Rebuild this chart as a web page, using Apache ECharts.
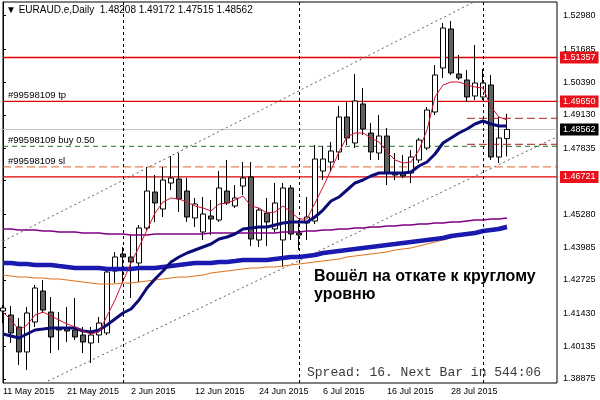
<!DOCTYPE html>
<html>
<head>
<meta charset="utf-8">
<script src="https://cdn.jsdelivr.net/npm/echarts@6/dist/echarts.min.js"></script>
<style>html,body{margin:0;padding:0;background:#fff}#c{width:600px;height:400px}</style>
</head>
<body>
<div id="c"></div>
<script>
// ---- data (bar index 0 = 11 May 2015, daily bars) ----
const dateLabels = ['11 May 2015','21 May 2015','2 Jun 2015','12 Jun 2015','24 Jun 2015','6 Jul 2015','16 Jul 2015','28 Jul 2015'];
const dateLabelIdx = [0,8,16,24,32,40,48,56];
const priceTicks = [1.52980,1.51685,1.50390,1.49130,1.47835,1.46575,1.45280,1.43985,1.42725,1.41430,1.40135,1.38875];

const open = [1.41515,1.41360,1.40894,1.39924,1.41088,1.42292,1.41476,1.40855,1.40855,1.40778,1.40584,1.40273,1.40584,1.40661,1.43068,1.43728,
1.43612,1.43379,1.44738,1.46135,1.45475,1.46485,1.46640,1.46174,1.45126,1.44582,1.45204,1.45048,1.46174,1.45592,1.46368,1.46718,
1.44272,1.45320,1.44699,1.44272,1.46291,1.44544,1.44932,1.45009,1.46951,1.47300,1.47688,1.49047,1.48038,1.49552,1.48426,1.47649,
1.48309,1.46873,1.46873,1.46873,1.47378,1.47844,1.49241,1.50950,1.52464,1.50717,1.50484,1.49862,1.49824,1.50290,1.47494,1.48208];
const close = [1.41632,1.40661,1.39924,1.41438,1.42408,1.41554,1.40506,1.40778,1.40739,1.40506,1.40312,1.40584,1.41049,1.43029,1.43612,1.43612,
1.43418,1.44738,1.46174,1.45708,1.46601,1.46679,1.45864,1.45165,1.45669,1.45281,1.45087,1.46291,1.45708,1.45902,1.46679,1.44311,
1.45436,1.44971,1.45708,1.46291,1.44505,1.44466,1.45165,1.47417,1.47417,1.47727,1.49047,1.48232,1.49668,1.48581,1.47688,1.48309,
1.46873,1.46795,1.46756,1.47494,1.48154,1.49319,1.50678,1.52502,1.50755,1.50561,1.49824,1.50367,1.50367,1.47494,1.48232,1.48562];
const low = [1.41049,1.40273,1.39419,1.39225,1.40894,1.41438,1.39885,1.40001,1.40312,1.40389,1.39885,1.39496,1.40273,1.40584,1.42602,1.42602,
1.42020,1.42641,1.44660,1.44971,1.45165,1.46213,1.45359,1.44971,1.44776,1.44272,1.44466,1.44971,1.45631,1.45514,1.46019,1.44039,
1.44000,1.44039,1.44582,1.43224,1.44272,1.43884,1.44272,1.44893,1.46601,1.46912,1.47378,1.47960,1.47844,1.48348,1.47378,1.47378,
1.46407,1.46601,1.46679,1.46485,1.47261,1.47766,1.49125,1.50561,1.50678,1.50484,1.49630,1.49707,1.49707,1.47378,1.47261,1.47515];
const high = [1.41748,1.41709,1.41243,1.41671,1.42525,1.42719,1.42059,1.41476,1.41671,1.42020,1.40894,1.40894,1.41282,1.43107,1.43806,1.44000,
1.44466,1.44854,1.47106,1.46795,1.47106,1.47533,1.47649,1.46679,1.45902,1.45941,1.45825,1.46951,1.47378,1.46407,1.47300,1.47300,
1.45514,1.45902,1.46485,1.46485,1.46407,1.45048,1.45941,1.47960,1.47921,1.48077,1.49474,1.49630,1.50717,1.50173,1.48814,1.49125,
1.48620,1.47649,1.47572,1.47766,1.48232,1.49435,1.51066,1.52697,1.52774,1.51454,1.50872,1.51842,1.50911,1.50678,1.49047,1.49172];

const maFast = [1.41476,1.41166,1.40778,1.40972,1.41360,1.41476,1.41321,1.41166,1.41011,1.40894,1.40739,1.40622,1.40700,1.41321,1.41942,1.42680,
1.43379,1.44000,1.44660,1.45320,1.45747,1.45902,1.45864,1.45747,1.45592,1.45514,1.45398,1.45669,1.45708,1.45825,1.45980,1.45592,
1.45514,1.45320,1.45359,1.45592,1.45359,1.45087,1.45087,1.45708,1.46329,1.46989,1.47688,1.48271,1.48426,1.48426,1.48232,1.48077,
1.47688,1.47378,1.47261,1.47300,1.47766,1.48542,1.49824,1.50290,1.50406,1.50406,1.50290,1.50212,1.50173,1.49435,1.49047,1.48931];
const maMid = [1.40622,1.40545,1.40467,1.40622,1.40778,1.40816,1.40855,1.40855,1.40855,1.40855,1.40739,1.40700,1.40778,1.40972,1.41205,1.41438,
1.41593,1.41942,1.42408,1.42758,1.43068,1.43418,1.43612,1.43767,1.43884,1.44000,1.44116,1.44311,1.44388,1.44505,1.44699,1.44738,
1.44776,1.44776,1.44854,1.44932,1.44971,1.44971,1.44971,1.45165,1.45436,1.45786,1.45941,1.46213,1.46485,1.46601,1.46756,1.46873,
1.46873,1.46873,1.46873,1.46912,1.47145,1.47300,1.47611,1.48038,1.48232,1.48426,1.48581,1.48775,1.48892,1.48775,1.48698,1.48698];
const maSlowBlue = [1.43379,1.43379,1.43340,1.43340,1.43301,1.43301,1.43301,1.43262,1.43224,1.43185,1.43185,1.43185,1.43185,1.43146,1.43146,1.43146,
1.43146,1.43185,1.43185,1.43185,1.43224,1.43262,1.43301,1.43340,1.43379,1.43379,1.43379,1.43418,1.43418,1.43456,1.43495,1.43495,
1.43495,1.43495,1.43534,1.43573,1.43612,1.43612,1.43651,1.43689,1.43767,1.43806,1.43845,1.43884,1.43922,1.43961,1.44000,1.44039,
1.44078,1.44116,1.44155,1.44194,1.44233,1.44272,1.44311,1.44349,1.44427,1.44466,1.44505,1.44544,1.44621,1.44660,1.44699,1.44776];
const maSlowPurple = [1.44699,1.44699,1.44660,1.44660,1.44660,1.44621,1.44621,1.44582,1.44582,1.44582,1.44544,1.44544,1.44544,1.44505,1.44505,1.44505,
1.44466,1.44466,1.44466,1.44505,1.44505,1.44505,1.44505,1.44505,1.44505,1.44505,1.44544,1.44544,1.44544,1.44544,1.44544,1.44544,
1.44544,1.44544,1.44544,1.44582,1.44582,1.44582,1.44621,1.44621,1.44660,1.44660,1.44699,1.44699,1.44738,1.44738,1.44776,1.44776,
1.44815,1.44815,1.44854,1.44854,1.44893,1.44893,1.44932,1.44932,1.44971,1.44971,1.45009,1.45048,1.45048,1.45087,1.45087,1.45126];
const maSlowOrange = [1.42913,1.42874,1.42835,1.42835,1.42796,1.42796,1.42758,1.42758,1.42719,1.42680,1.42641,1.42602,1.42564,1.42564,1.42564,1.42602,
1.42602,1.42641,1.42680,1.42719,1.42758,1.42796,1.42835,1.42835,1.42874,1.42913,1.42991,1.43029,1.43068,1.43107,1.43146,1.43185,
1.43185,1.43224,1.43224,1.43262,1.43301,1.43340,1.43379,1.43418,1.43456,1.43495,1.43534,1.43612,1.43651,1.43689,1.43728,1.43767,
1.43806,1.43884,1.43922,1.43961,1.44039,1.44116,1.44194,1.44272,1.44349,1.44427,1.44505,1.44582,1.44660,1.44699,1.44776,1.44854];

const upperChannel = [[0, 1.44225], [59, 1.53535]];
const lowerChannel = [[5.625, 1.38798], [69.25, 1.48278]];
const shortDashA = [[58, 1.48997], [69.25, 1.48997]];
const shortDashB = [[58, 1.47987], [69.25, 1.47987]];
const separatorIdx = [15, 37, 60];
// horizontal levels and their left-side tags
const levelValues = [1.51357, 1.49650, 1.48562, 1.47910, 1.47110, 1.46721];
const levelTags   = ['', '#99598109 tp', '', '#99598109 buy 0.50', '#99598109 sl', ''];

// ---- build ----
const candles = open.map((o, i) => [i, o, close[i], low[i], high[i]]);
const withIdx = arr => arr.map((v, i) => [i, v]);
const F = '"Liberation Sans", Arial, sans-serif';
const X_END = 69.25;

const levelStyles = [
  { color: '#e00000', type: 'solid', width: 1.3, box: '#e8101a' },
  { color: '#e00000', type: 'solid', width: 1.3, box: '#e8101a' },
  { color: '#c4c4c4', type: 'solid', width: 1, box: '#000000' },
  { color: '#1e6e1e', type: [5, 4], width: 1, box: null },
  { color: '#e0602a', type: [8, 4], width: 1, box: null },
  { color: '#e00000', type: 'solid', width: 1.3, box: '#e8101a' }
];

const levelSeries = levelValues.map((v, k) => {
  const st = levelStyles[k];
  const first = { value: [0, v] };
  if (levelTags[k]) {
    first.label = { show: true, position: [5, -11], align: 'left', verticalAlign: 'top',
      formatter: levelTags[k], color: '#000', fontSize: 9.5, fontFamily: F };
  }
  return {
    type: 'line', data: [first, [X_END, v]], symbol: 'circle', symbolSize: 0, showSymbol: true,
    silent: true, z: 1,
    label: { show: false },
    lineStyle: { color: st.color, type: st.type, width: st.width },
    itemStyle: { color: st.color },
    endLabel: st.box ? { show: true, distance: 3, formatter: v.toFixed(5), backgroundColor: st.box,
      color: '#fff', padding: [2, 3, 1, 3], fontSize: 9, fontFamily: F } : { show: false }
  };
});

const chart = echarts.init(document.getElementById('c'), null, { renderer: 'canvas' });
chart.setOption({
  animation: false,
  backgroundColor: '#fff',
  grid: { left: 3, right: 43, top: 2, bottom: 17, show: true, borderColor: '#000', borderWidth: 1, backgroundColor: '#fff' },
  xAxis: {
    type: 'value', min: 0, max: X_END,
    axisLine: { show: false }, splitLine: { show: false },
    axisTick: { show: false },
    axisLabel: {
      customValues: dateLabelIdx, align: 'left', margin: 4,
      fontSize: 9, fontFamily: F, color: '#000',
      formatter: v => dateLabels[dateLabelIdx.indexOf(v)] || ''
    }
  },
  yAxis: {
    type: 'value', position: 'right', min: 1.38720, max: 1.53512,
    axisLine: { show: true, lineStyle: { color: '#000' } },
    splitLine: { show: false },
    axisTick: { show: true, customValues: priceTicks, length: 3, inside: false, lineStyle: { color: '#000' } },
    axisLabel: { customValues: priceTicks, margin: 6, fontSize: 9, fontFamily: F, color: '#000', formatter: v => v.toFixed(5) }
  },
  series: levelSeries.concat([
    {
      type: 'candlestick', data: candles, encode: { x: 0, y: [1, 2, 3, 4] }, barWidth: 5, clip: true, z: 2,
      itemStyle: { color: '#ffffff', color0: '#606060', borderColor: '#000', borderColor0: '#000', borderColorDoji: '#000', borderWidth: 1 },
      markLine: {
        silent: true, symbol: ['none', 'none'], animation: false, precision: 5,
        data: separatorIdx.map(i => ({ xAxis: i, lineStyle: { color: '#000', type: [3, 3], width: 1 }, label: { show: false } }))
      }
    },
    { type: 'line', data: upperChannel, symbol: 'none', silent: true, z: 3, lineStyle: { color: '#606060', width: 1, type: [2, 3] } },
    { type: 'line', data: lowerChannel, symbol: 'none', silent: true, z: 3, lineStyle: { color: '#606060', width: 1, type: [2, 3] } },
    { type: 'line', data: shortDashA, symbol: 'none', silent: true, z: 3, lineStyle: { color: '#a82020', width: 1, type: [8, 4] } },
    { type: 'line', data: shortDashB, symbol: 'none', silent: true, z: 3, lineStyle: { color: '#a82020', width: 1, type: [8, 4] } },
    { type: 'line', data: withIdx(maSlowOrange), symbol: 'none', silent: true, z: 3, lineStyle: { color: '#e0701a', width: 1 } },
    { type: 'line', data: withIdx(maSlowPurple), symbol: 'none', silent: true, z: 3, lineStyle: { color: '#800080', width: 1.5 } },
    { type: 'line', data: withIdx(maSlowBlue), symbol: 'none', silent: true, z: 3, lineStyle: { color: '#1a1ab0', width: 4.5 } },
    { type: 'line', data: withIdx(maMid), symbol: 'none', silent: true, z: 3, lineStyle: { color: '#0c0c78', width: 3 } },
    { type: 'line', data: withIdx(maFast), symbol: 'none', silent: true, z: 3, lineStyle: { color: '#d0102e', width: 1 } }
  ]),
  graphic: [
    { type: 'text', x: 6, y: 10.5, z: 100, style: { text: '▼ EURAUD.e,Daily  1.48208 1.49172 1.47515 1.48562', font: '10px ' + F, fill: '#000', verticalAlign: 'middle' } },
    { type: 'text', x: 314, y: 286, z: 100, style: { text: 'Вошёл на откате к круглому\nуровню', font: 'bold 16px ' + F, lineHeight: 18, fill: '#000', verticalAlign: 'middle' } },
    { type: 'text', x: 307, y: 373, z: 100, style: { text: 'Spread: 16. Next Bar in 544:06', font: '13px "Liberation Mono", monospace', fill: '#3a3a3a', verticalAlign: 'middle' } }
  ]
});
</script>
</body>
</html>
